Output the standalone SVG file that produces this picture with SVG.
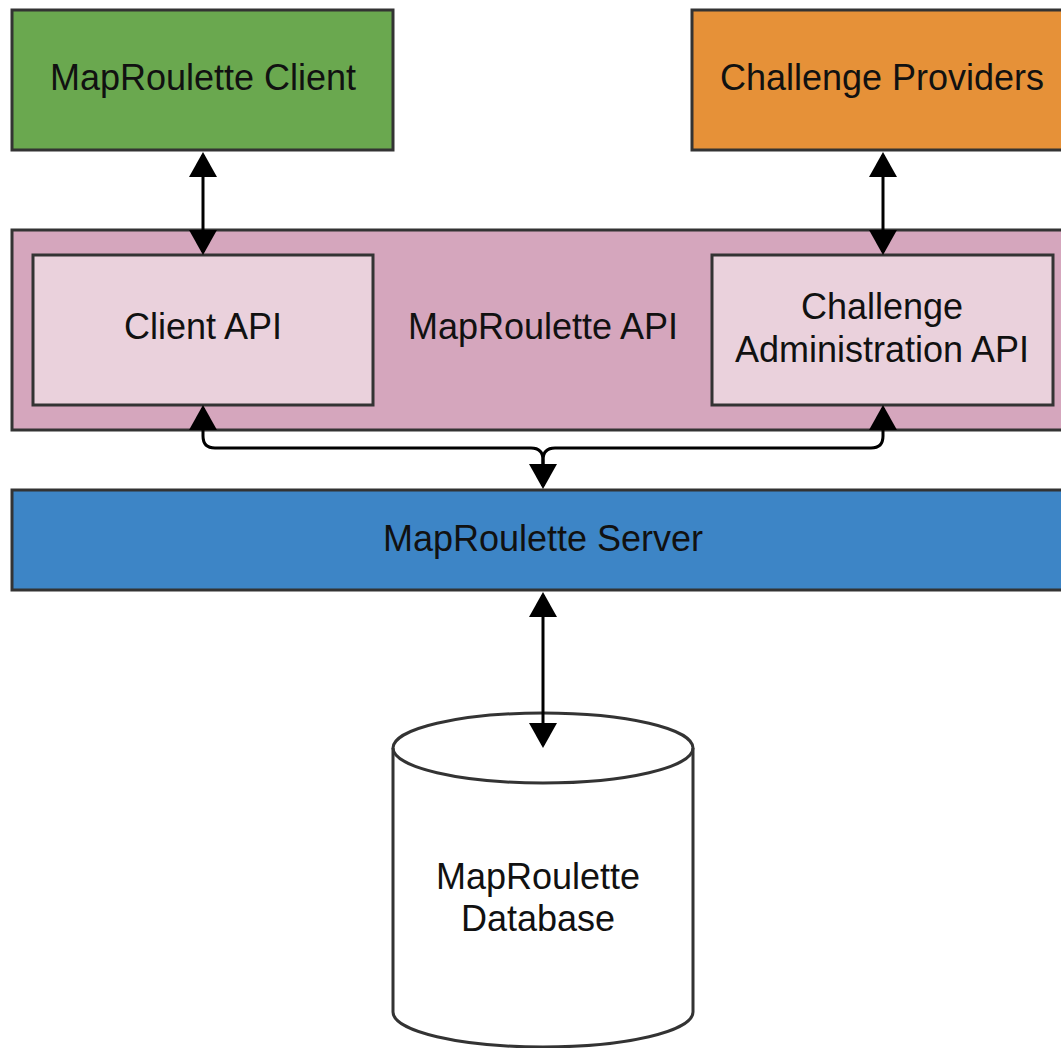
<svg xmlns="http://www.w3.org/2000/svg" width="1061" height="1048" viewBox="0 0 1061 1048">
<style>
.box{stroke:#333;stroke-width:3}
.lbl{font-family:"Liberation Sans",Arial,Helvetica,sans-serif;font-size:36px;fill:#111;text-anchor:middle}
.edge{fill:none;stroke:#000;stroke-width:3}
</style>
<defs>
<marker id="ah" viewBox="0 0 25 28" refX="22" refY="14" markerWidth="25" markerHeight="28" markerUnits="userSpaceOnUse" orient="auto-start-reverse">
<path d="M0,0 L25,14 L0,28 z" fill="#000"/>
</marker>
</defs>
<rect width="1061" height="1048" fill="#fff"/>
<g id="client">
<rect class="box" x="12" y="10" width="381" height="140" fill="#6aa84f"/>
<text class="lbl" x="203" y="90">MapRoulette Client</text>
</g>
<g id="providers">
<rect class="box" x="692" y="10" width="380" height="140" fill="#e69138"/>
<text class="lbl" x="882" y="90">Challenge Providers</text>
</g>
<g id="api">
<rect class="box" x="12" y="230" width="1060" height="200" fill="#d5a6bd"/>
<text class="lbl" x="543" y="339">MapRoulette API</text>
</g>
<g id="clientapi">
<rect class="box" x="33" y="255" width="340" height="150" fill="#ead1dc"/>
<text class="lbl" x="203" y="339">Client API</text>
</g>
<g id="adminapi">
<rect class="box" x="712" y="255" width="341" height="150" fill="#ead1dc"/>
<text class="lbl" x="882" y="319">Challenge</text>
<text class="lbl" x="882" y="362">Administration API</text>
</g>
<g id="server">
<rect class="box" x="12" y="490" width="1060" height="100" fill="#3d85c6"/>
<text class="lbl" x="543" y="551">MapRoulette Server</text>
</g>
<g id="database">
<path class="box" d="M393,748 A150,35 0 0 1 693,748 V1012 A150,35 0 0 1 393,1012 Z" fill="#fff"/>
<path class="box" d="M393,748 A150,35 0 0 0 693,748" fill="none"/>
<text class="lbl" x="538" y="889">MapRoulette</text>
<text class="lbl" x="538" y="931">Database</text>
</g>
<g id="connectors">
<path class="edge" d="M203,155 V252" marker-start="url(#ah)" marker-end="url(#ah)"/>
<path class="edge" d="M883,155 V252" marker-start="url(#ah)" marker-end="url(#ah)"/>
<path class="edge" d="M543,595 V745" marker-start="url(#ah)" marker-end="url(#ah)"/>
<path class="edge" d="M203,408 V436 Q203,448 215,448 H531 Q543,448 543,460 V486" marker-start="url(#ah)" marker-end="url(#ah)"/>
<path class="edge" d="M883,408 V436 Q883,448 871,448 H555 Q543,448 543,460 V486" marker-start="url(#ah)"/>
</g>
</svg>
